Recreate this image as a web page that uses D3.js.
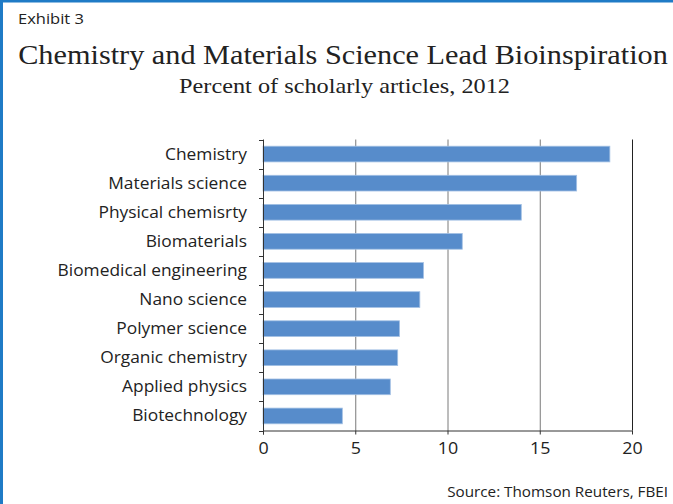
<!DOCTYPE html>
<html><head><meta charset="utf-8">
<script src="https://cdn.jsdelivr.net/npm/d3@7"></script>
<style>html,body{margin:0;padding:0;background:#fff;}svg{display:block;}</style>
</head><body>
<script>
const categories = ["Chemistry","Materials science","Physical chemisrty","Biomaterials","Biomedical engineering","Nano science","Polymer science","Organic chemistry","Applied physics","Biotechnology"];
const values = [18.8, 17.0, 14.0, 10.8, 8.7, 8.5, 7.4, 7.3, 6.9, 4.3];
const xTicks = [0, 5, 10, 15, 20];
const exhibitLabel = "Exhibit 3";
const titleText = "Chemistry and Materials Science Lead Bioinspiration";
const subtitleText = "Percent of scholarly articles, 2012";
const sourceText = "Source: Thomson Reuters, FBEI";

(function () {
const W = 673, H = 504;
const svg = d3.select("body").append("svg").attr("width", W).attr("height", H);
svg.append("rect").attr("width", W).attr("height", H).attr("fill", "#fff");
svg.append("rect").attr("x", 0).attr("y", 0).attr("width", W).attr("height", 2.5).attr("fill", "#1f7bc6");
svg.append("rect").attr("x", 0).attr("y", 0).attr("width", 3).attr("height", H).attr("fill", "#1f7bc6");

const sans = "'Open Sans', 'Noto Sans', sans-serif";
const serif = "'Liberation Serif', 'DejaVu Serif', serif";
const SX = 1.12;

function placeText(parent, str, ax, ay, anchor, family, size, sx) {
  return parent.append("text").attr("x", 0).attr("y", 0)
    .attr("transform", `translate(${ax},${ay}) scale(${sx},1)`)
    .attr("text-anchor", anchor).attr("font-family", family).attr("font-size", size)
    .attr("fill", "#222").text(str);
}
function fitScale(sel, target, ax, ay) {
  const len = sel.node().getComputedTextLength();
  const s = len > 0 ? target / len : 1;
  sel.attr("transform", `translate(${ax},${ay}) scale(${s},1)`);
}

placeText(svg, exhibitLabel, 18, 24, "start", sans, 15, 1.1);

const title = placeText(svg, titleText, 343, 64, "middle", serif, 27.5, 1);
fitScale(title, 650, 343, 64);
const sub = placeText(svg, subtitleText, 344.5, 93, "middle", serif, 21, 1);
fitScale(sub, 331, 344.5, 93);

const pLeft = 263, pRight = 632, pTop = 139.5, pBottom = 430.5;
const x = d3.scaleLinear().domain([0, 20]).range([pLeft, pRight]);
const y = d3.scaleBand().domain(categories).range([pTop, pBottom]).paddingInner(0.46).paddingOuter(0.23);

svg.append("g").selectAll("line").data(xTicks.filter(d => d > 0)).join("line")
  .attr("x1", d => x(d) + 0.5).attr("x2", d => x(d) + 0.5).attr("y1", pTop).attr("y2", pBottom)
  .attr("stroke", d => d === 20 ? "#222" : "#7a7a7a").attr("stroke-width", 1);

svg.append("g").selectAll("rect").data(categories).join("rect")
  .attr("x", x(0)).attr("y", d => y(d))
  .attr("width", (d, i) => x(values[i]) - x(0)).attr("height", y.bandwidth())
  .attr("fill", "#578ccb").attr("stroke", "#a3c0e4").attr("stroke-width", 0.8);

const yb = d3.scaleLinear().domain([0, categories.length]).range([pTop, pBottom]);
const gy = svg.append("g");
gy.append("line").attr("x1", pLeft + 0.5).attr("x2", pLeft + 0.5).attr("y1", pTop).attr("y2", pBottom + 4).attr("stroke", "#333");
gy.selectAll("line.t").data(d3.range(categories.length + 1)).join("line").attr("class", "t")
  .attr("x1", pLeft - 4).attr("x2", pLeft + 0.5).attr("y1", d => Math.round(yb(d)) + 0.5).attr("y2", d => Math.round(yb(d)) + 0.5).attr("stroke", "#333");
categories.forEach(c => {
  placeText(gy, c, 247, y(c) + y.bandwidth() / 2 + 5.5, "end", sans, 15.5, SX);
});

const gx = svg.append("g").attr("transform", `translate(0,${pBottom})`)
  .call(d3.axisBottom(x).tickValues(xTicks).tickSize(4).tickSizeOuter(0).tickPadding(7));
gx.select(".domain").attr("stroke", "#333");
gx.selectAll(".tick line").attr("stroke", "#333");
gx.selectAll(".tick text").attr("font-family", sans).attr("font-size", 17).attr("fill", "#222")
  .attr("transform", `scale(1.05,1)`);

placeText(svg, sourceText, 668, 497, "end", sans, 14, 1.09);
})();
</script>
</body></html>
